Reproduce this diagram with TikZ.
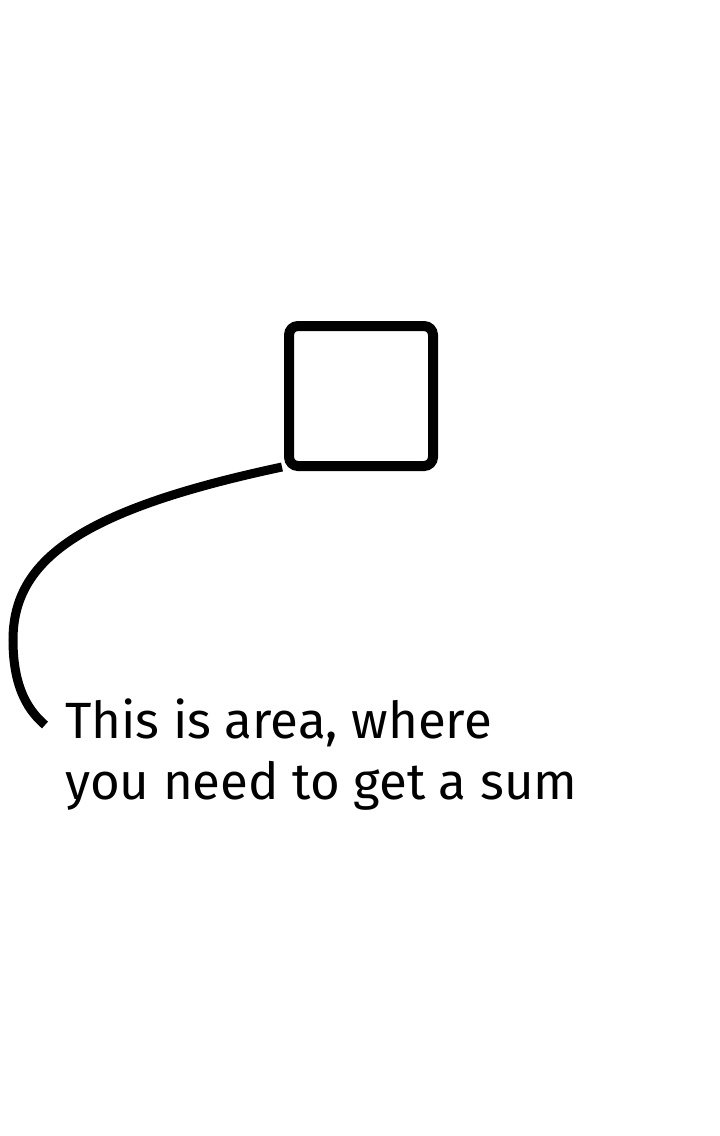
\documentclass[tikz,border=0pt]{standalone}
\usepackage{fontspec}
\setmainfont{Fira Sans}
\begin{document}
\begin{tikzpicture}[x=1pt,y=-1pt,
  boxstyle/.style={draw=black,line width=10pt,rounded corners=9pt,minimum width=144pt,minimum height=140pt,inner sep=0pt},
  linkstyle/.style={draw=black,line width=9pt},
  labelstyle/.style={font=\fontsize{51}{61}\selectfont,align=left,anchor=north west,inner sep=0pt}]
\useasboundingbox (0,0) rectangle (720,1136);
\node[boxstyle] (box) at (361,396) {};
\path (box.south west) ++(-2pt,4pt) coordinate (start);
\coordinate (turn) at (13,640);
\coordinate (tip) at (45,725);
\draw[linkstyle] (start) .. controls (80,510) and (13,560) .. (turn)
  .. controls (13,690) and (30,712) .. (tip);
\node[labelstyle] (label) at (65,699) {This is area, where\\you need to get a sum};
\end{tikzpicture}
\end{document}
